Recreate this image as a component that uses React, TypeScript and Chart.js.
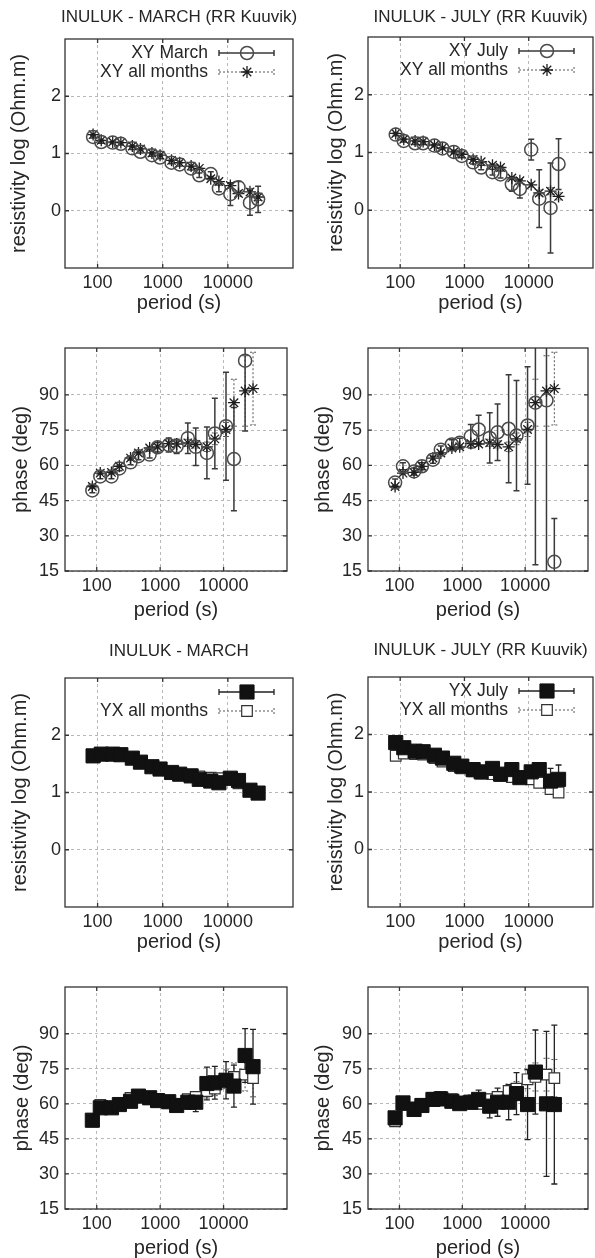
import React, { useEffect, useRef } from "react";
import { Chart, registerables } from "chart.js";

Chart.register(...registerables);

const FONT = "'Liberation Sans', Arial, Helvetica, sans-serif";
const TEXT = "#262626";

// ---------- data ----------
const PERIODS = [85.3, 113.8, 170.7, 227.6, 341.3, 455.1, 682.7, 910.2, 1365.3, 1820.4, 2730.7, 3640.9, 5461.3, 7281.8, 10922.7, 14563.6, 21845.3, 29127.1];
const X_TICKS = [100, 1000, 10000];
const RHO_TICKS = [0, 1, 2];
const PHASE_TICKS = [15, 30, 45, 60, 75, 90];

// XY apparent resistivity (log Ohm.m)
const XY_RHO_MARCH = [1.29, 1.2, 1.19, 1.17, 1.09, 1.03, 0.97, 0.93, 0.84, 0.81, 0.74, 0.62, 0.64, 0.39, 0.29, 0.41, 0.14, 0.2];
const XY_RHO_MARCH_ERR = [0.02, 0.02, 0.02, 0.02, 0.02, 0.02, 0.02, 0.02, 0.02, 0.03, 0.03, 0.04, 0.04, 0.06, 0.2, 0.1, 0.22, 0.23];
const XY_RHO_JULY = [1.31, 1.2, 1.16, 1.16, 1.12, 1.07, 1.01, 0.94, 0.83, 0.74, 0.66, 0.62, 0.45, 0.37, 1.05, 0.2, 0.04, 0.8];
const XY_RHO_JULY_ERR = [0.02, 0.02, 0.02, 0.02, 0.02, 0.02, 0.03, 0.03, 0.03, 0.04, 0.05, 0.06, 0.12, 0.16, 0.18, 0.5, 0.78, 0.44];
const XY_RHO_ALL = [1.33, 1.23, 1.2, 1.19, 1.13, 1.08, 1.01, 0.97, 0.88, 0.84, 0.78, 0.74, 0.56, 0.51, 0.44, 0.3, 0.33, 0.24];
const XY_RHO_ALL_ERR = [0.01, 0.01, 0.01, 0.01, 0.01, 0.01, 0.01, 0.01, 0.01, 0.01, 0.02, 0.02, 0.02, 0.03, 0.04, 0.05, 0.06, 0.06];

// XY phase (deg)
const XY_PHASE_MARCH = [49.3, 55.3, 55.3, 58.7, 61.3, 63.9, 64.6, 67.7, 68.7, 68.1, 71.6, 67.9, 65.3, 73.6, 76.7, 62.7, 104.6, null];
const XY_PHASE_MARCH_ERR = [1, 1, 1, 1, 1, 1.5, 1.5, 2, 3, 3, 6.5, 8, 11, 15, 23, 22, 30, 0];
const XY_PHASE_JULY = [52.7, 59.6, 57.4, 59.6, 62.4, 66.7, 68.9, 69.6, 72.4, 75.3, 71.7, 74.1, 75.6, 72.7, 77.0, 86.7, 87.7, 18.9];
const XY_PHASE_JULY_ERR = [1.5, 1.5, 1.5, 1.5, 1.5, 1.5, 2, 2, 5, 6, 10.7, 12, 23, 23.5, 25, 69, 80, 18.5];
const XY_PHASE_ALL = [51, 56.7, 57, 59.6, 63.1, 65.3, 67.4, 67.9, 69.3, 69.1, 69.6, 68.9, 67.9, 71.3, 75.3, 86.7, 91.7, 92.7];
const XY_PHASE_ALL_ERR = [0.5, 0.5, 0.5, 0.5, 0.5, 0.5, 0.5, 0.8, 1, 1, 1.5, 1.5, 2, 2.5, 3, 10, 15, 15.5];

// YX apparent resistivity (log Ohm.m)
const YX_RHO_MARCH = [1.64, 1.67, 1.67, 1.66, 1.6, 1.53, 1.45, 1.41, 1.35, 1.32, 1.29, 1.23, 1.2, 1.17, 1.25, 1.21, 1.04, 0.99];
const YX_RHO_MARCH_ERR = [0.02, 0.02, 0.02, 0.02, 0.02, 0.02, 0.02, 0.02, 0.02, 0.02, 0.02, 0.02, 0.03, 0.03, 0.03, 0.03, 0.04, 0.06];
const YX_RHO_JULY = [1.86, 1.77, 1.71, 1.7, 1.64, 1.59, 1.5, 1.45, 1.39, 1.35, 1.41, 1.31, 1.39, 1.25, 1.35, 1.39, 1.19, 1.22];
const YX_RHO_JULY_ERR = [0.02, 0.02, 0.02, 0.02, 0.02, 0.02, 0.02, 0.02, 0.02, 0.02, 0.03, 0.03, 0.04, 0.04, 0.07, 0.1, 0.22, 0.25];
const YX_RHO_ALL = [1.63, 1.67, 1.66, 1.65, 1.59, 1.53, 1.45, 1.41, 1.36, 1.32, 1.31, 1.28, 1.26, 1.25, 1.22, 1.16, 1.05, 0.99];
const YX_RHO_ALL_ERR = [0.01, 0.01, 0.01, 0.01, 0.01, 0.01, 0.01, 0.01, 0.01, 0.01, 0.02, 0.02, 0.02, 0.02, 0.03, 0.04, 0.05, 0.05];

// YX phase (deg)
const YX_PHASE_MARCH = [53, 58.3, 58.3, 59.7, 61.1, 63.3, 62.6, 61.4, 60.9, 59.3, 60.7, 60.7, 68.7, 69.0, 70.1, 67.6, 80.7, 75.9];
const YX_PHASE_MARCH_ERR = [1, 1, 1, 1, 1, 1, 1, 1, 1.5, 2, 3, 4, 7, 7, 8, 9, 11.5, 16];
const YX_PHASE_JULY = [54, 60.4, 57.6, 59.3, 61.9, 62.1, 61.1, 60.1, 60.7, 61.9, 59.0, 60.7, 60.7, 64.4, 59.7, 73.6, 60.0, 59.7];
const YX_PHASE_JULY_ERR = [1, 1, 1, 1, 1, 1, 1, 1, 3, 4, 5, 6, 7.5, 9, 15, 18, 31, 34];
const YX_PHASE_ALL = [52.5, 59.5, 58.5, 60, 62.5, 63, 62, 61, 60.5, 60, 62, 63, 65.5, 66.5, 70.5, 71.5, 72.5, 71];
const YX_PHASE_ALL_ERR = [0.5, 0.5, 0.5, 0.5, 0.5, 0.5, 0.5, 0.5, 1, 1, 1.5, 2, 3, 3, 4, 6, 7, 8];

// ---------- styles ----------
type Kind = "circle" | "star" | "filled" | "open";
const STYLE: Record<Kind, any> = {
  circle: { pointStyle: "circle", pointRadius: 6.5, pointBorderColor: "#4a4a4a", pointBackgroundColor: "rgba(0,0,0,0)", pointBorderWidth: 1.5, errColor: "#3a3a3a", errWidth: 1.5, errDash: [] },
  star: { pointStyle: "star", pointRadius: 6, pointBorderColor: "#1e1e1e", pointBackgroundColor: "rgba(0,0,0,0)", pointBorderWidth: 1.3, errColor: "#555", errWidth: 1, errDash: [2, 2] },
  filled: { pointStyle: "rect", pointRadius: 10, pointBorderColor: "#111", pointBackgroundColor: "#111", pointBorderWidth: 1, errColor: "#222", errWidth: 1.3, errDash: [] },
  open: { pointStyle: "rect", pointRadius: 7.5, pointBorderColor: "#333", pointBackgroundColor: "#fff", pointBorderWidth: 1.2, errColor: "#555", errWidth: 1, errDash: [2, 2] },
};

function drawMarker(ctx: CanvasRenderingContext2D, kind: Kind, x: number, y: number) {
  const s = STYLE[kind];
  ctx.save();
  ctx.setLineDash([]);
  ctx.strokeStyle = s.pointBorderColor;
  ctx.fillStyle = s.pointBackgroundColor;
  ctx.lineWidth = s.pointBorderWidth;
  ctx.beginPath();
  if (kind === "circle") {
    ctx.arc(x, y, s.pointRadius, 0, Math.PI * 2);
    ctx.stroke();
  } else if (kind === "star") {
    const r = s.pointRadius;
    const d = r * Math.SQRT1_2;
    ctx.moveTo(x - r, y); ctx.lineTo(x + r, y);
    ctx.moveTo(x, y - r); ctx.lineTo(x, y + r);
    ctx.moveTo(x - d, y - d); ctx.lineTo(x + d, y + d);
    ctx.moveTo(x - d, y + d); ctx.lineTo(x + d, y - d);
    ctx.stroke();
  } else {
    const h = s.pointRadius * Math.SQRT1_2;
    ctx.rect(x - h, y - h, 2 * h, 2 * h);
    ctx.fill();
    ctx.stroke();
  }
  ctx.restore();
}

// ---------- plugins ----------
const boxPlugin = {
  id: "gnuBox",
  beforeDatasetsDraw(chart: any) {
    const { ctx, chartArea: a, scales } = chart;
    ctx.save();
    ctx.strokeStyle = "#333";
    ctx.lineWidth = 1.3;
    ctx.setLineDash([]);
    ctx.strokeRect(a.left, a.top, a.right - a.left, a.bottom - a.top);
    ctx.beginPath();
    const tl = 4;
    scales.x.ticks.forEach((t: any) => {
      const px = scales.x.getPixelForValue(t.value);
      ctx.moveTo(px, a.bottom); ctx.lineTo(px, a.bottom - tl);
      ctx.moveTo(px, a.top); ctx.lineTo(px, a.top + tl);
    });
    scales.y.ticks.forEach((t: any) => {
      const py = scales.y.getPixelForValue(t.value);
      ctx.moveTo(a.left, py); ctx.lineTo(a.left + tl, py);
      ctx.moveTo(a.right, py); ctx.lineTo(a.right - tl, py);
    });
    ctx.stroke();
    ctx.restore();
  },
};

const errorBarPlugin = {
  id: "errorBars",
  beforeDatasetsDraw(chart: any) {
    const { ctx, chartArea: a, scales } = chart;
    const xs = scales.x, ys = scales.y;
    ctx.save();
    ctx.beginPath();
    ctx.rect(a.left, a.top, a.right - a.left, a.bottom - a.top);
    ctx.clip();
    const dss = chart.data.datasets.slice().reverse();
    dss.forEach((ds: any) => {
      const errs = ds.errs;
      if (!errs) return;
      ctx.strokeStyle = ds.errColor;
      ctx.lineWidth = ds.errWidth;
      ctx.setLineDash(ds.errDash || []);
      ds.data.forEach((pt: any, i: number) => {
        if (pt.y == null || !errs[i]) return;
        const px = xs.getPixelForValue(pt.x);
        const y1 = ys.getPixelForValue(pt.y + errs[i]);
        const y2 = ys.getPixelForValue(pt.y - errs[i]);
        ctx.beginPath();
        ctx.moveTo(px, y1); ctx.lineTo(px, y2);
        ctx.moveTo(px - 3, y1); ctx.lineTo(px + 3, y1);
        ctx.moveTo(px - 3, y2); ctx.lineTo(px + 3, y2);
        ctx.stroke();
      });
    });
    ctx.restore();
  },
};

const inlineLegendPlugin = {
  id: "inlineLegend",
  afterDatasetsDraw(chart: any, _args: any, opts: any) {
    if (!opts || !opts.items) return;
    const { ctx, chartArea: a } = chart;
    ctx.save();
    ctx.font = `17.5px ${FONT}`;
    ctx.fillStyle = TEXT;
    ctx.textAlign = "right";
    ctx.textBaseline = "middle";
    opts.items.forEach((it: any, i: number) => {
      const y = a.top + 14 + i * 19;
      if (it.text) ctx.fillText(it.text, a.right - 85, y);
      const x0 = a.right - 74, x1 = a.right - 19, xm = a.right - 46;
      const s = STYLE[it.kind as Kind];
      ctx.save();
      ctx.strokeStyle = s.errColor;
      ctx.lineWidth = s.errWidth;
      ctx.setLineDash(s.errDash);
      ctx.beginPath();
      ctx.moveTo(x0, y); ctx.lineTo(x1, y);
      ctx.moveTo(x0, y - 3); ctx.lineTo(x0, y + 3);
      ctx.moveTo(x1, y - 3); ctx.lineTo(x1, y + 3);
      ctx.stroke();
      ctx.restore();
      drawMarker(ctx, it.kind, xm, y);
    });
    ctx.restore();
  },
};

// panel title drawn as canvas text centred over the plot box
const panelTitlePlugin = {
  id: "panelTitle",
  afterDraw(chart: any, _args: any, opts: any) {
    if (!opts || !opts.text) return;
    const { ctx, chartArea: a } = chart;
    ctx.save();
    ctx.font = `17px ${FONT}`;
    ctx.fillStyle = TEXT;
    ctx.textAlign = "center";
    ctx.textBaseline = "middle";
    ctx.fillText(opts.text, (a.left + a.right) / 2, opts.y);
    ctx.restore();
  },
};

// ---------- panels ----------
type Series = { kind: Kind; values: (number | null)[]; errs: number[] };
type PanelDef = {
  cx: number; cy: number; w: number; h: number;
  boxL: number; boxR: number; boxT: number; boxB: number;
  title?: string; titleY?: number;
  yTitle: string; yTitleX: number; xTitleY: number;
  yMin: number; yMax: number; yTicks: number[]; yTickPad: number;
  series: Series[];
  legend?: { text: string; kind: Kind }[];
};

const RHO_LABEL = "resistivity log (Ohm.m)";
const PHASE_LABEL = "phase (deg)";

const PANELS: PanelDef[] = [
  {
    cx: 0, cy: 0, w: 297, h: 318, boxL: 65, boxR: 293, boxT: 39, boxB: 268,
    title: "INULUK - MARCH (RR Kuuvik)", titleY: 17,
    yTitle: RHO_LABEL, yTitleX: 19, xTitleY: 303,
    yMin: -1, yMax: 3, yTicks: RHO_TICKS, yTickPad: 4,
    series: [
      { kind: "circle", values: XY_RHO_MARCH, errs: XY_RHO_MARCH_ERR },
      { kind: "star", values: XY_RHO_ALL, errs: XY_RHO_ALL_ERR },
    ],
    legend: [{ text: "XY March", kind: "circle" }, { text: "XY all months", kind: "star" }],
  },
  {
    cx: 297, cy: 0, w: 298, h: 318, boxL: 368, boxR: 593, boxT: 37, boxB: 268,
    title: "INULUK - JULY (RR Kuuvik)", titleY: 17,
    yTitle: RHO_LABEL, yTitleX: 336, xTitleY: 303,
    yMin: -1, yMax: 3, yTicks: RHO_TICKS, yTickPad: 4,
    series: [
      { kind: "circle", values: XY_RHO_JULY, errs: XY_RHO_JULY_ERR },
      { kind: "star", values: XY_RHO_ALL, errs: XY_RHO_ALL_ERR },
    ],
    legend: [{ text: "XY July", kind: "circle" }, { text: "XY all months", kind: "star" }],
  },
  {
    cx: 0, cy: 318, w: 297, h: 314, boxL: 65, boxR: 287, boxT: 348, boxB: 571,
    yTitle: PHASE_LABEL, yTitleX: 21, xTitleY: 610,
    yMin: 15, yMax: 110, yTicks: PHASE_TICKS, yTickPad: 6,
    series: [
      { kind: "circle", values: XY_PHASE_MARCH, errs: XY_PHASE_MARCH_ERR },
      { kind: "star", values: XY_PHASE_ALL, errs: XY_PHASE_ALL_ERR },
    ],
  },
  {
    cx: 297, cy: 318, w: 298, h: 314, boxL: 368, boxR: 588, boxT: 348, boxB: 571,
    yTitle: PHASE_LABEL, yTitleX: 323, xTitleY: 610,
    yMin: 15, yMax: 110, yTicks: PHASE_TICKS, yTickPad: 6,
    series: [
      { kind: "circle", values: XY_PHASE_JULY, errs: XY_PHASE_JULY_ERR },
      { kind: "star", values: XY_PHASE_ALL, errs: XY_PHASE_ALL_ERR },
    ],
  },
  {
    cx: 0, cy: 632, w: 297, h: 323, boxL: 65, boxR: 293, boxT: 678, boxB: 907,
    title: "INULUK - MARCH", titleY: 651,
    yTitle: RHO_LABEL, yTitleX: 20, xTitleY: 942,
    yMin: -1, yMax: 3, yTicks: RHO_TICKS, yTickPad: 4,
    series: [
      { kind: "filled", values: YX_RHO_MARCH, errs: YX_RHO_MARCH_ERR },
      { kind: "open", values: YX_RHO_ALL, errs: YX_RHO_ALL_ERR },
    ],
    legend: [{ text: "", kind: "filled" }, { text: "YX all months", kind: "open" }],
  },
  {
    cx: 297, cy: 632, w: 298, h: 323, boxL: 368, boxR: 593, boxT: 677, boxB: 907,
    title: "INULUK - JULY (RR Kuuvik)", titleY: 650,
    yTitle: RHO_LABEL, yTitleX: 336, xTitleY: 942,
    yMin: -1, yMax: 3, yTicks: RHO_TICKS, yTickPad: 4,
    series: [
      { kind: "filled", values: YX_RHO_JULY, errs: YX_RHO_JULY_ERR },
      { kind: "open", values: YX_RHO_ALL, errs: YX_RHO_ALL_ERR },
    ],
    legend: [{ text: "YX July", kind: "filled" }, { text: "YX all months", kind: "open" }],
  },
  {
    cx: 0, cy: 955, w: 297, h: 303, boxL: 65, boxR: 287, boxT: 987, boxB: 1209,
    yTitle: PHASE_LABEL, yTitleX: 22, xTitleY: 1248,
    yMin: 15, yMax: 110, yTicks: PHASE_TICKS, yTickPad: 6,
    series: [
      { kind: "filled", values: YX_PHASE_MARCH, errs: YX_PHASE_MARCH_ERR },
      { kind: "open", values: YX_PHASE_ALL, errs: YX_PHASE_ALL_ERR },
    ],
  },
  {
    cx: 297, cy: 955, w: 298, h: 303, boxL: 368, boxR: 588, boxT: 987, boxB: 1209,
    yTitle: PHASE_LABEL, yTitleX: 323, xTitleY: 1248,
    yMin: 15, yMax: 110, yTicks: PHASE_TICKS, yTickPad: 6,
    series: [
      { kind: "filled", values: YX_PHASE_JULY, errs: YX_PHASE_JULY_ERR },
      { kind: "open", values: YX_PHASE_ALL, errs: YX_PHASE_ALL_ERR },
    ],
  },
];

function buildConfig(p: PanelDef): any {
  const boxL = p.boxL - p.cx, boxR = p.boxR - p.cx, boxT = p.boxT - p.cy, boxB = p.boxB - p.cy;
  const axisLH = 20 * 1.2;
  const tickLH = 18 * 1.2;
  const yTitleCenter = p.yTitleX - p.cx;
  const xTitleCenter = p.xTitleY - p.cy;
  const gridColor = "#b8b8b8";

  const datasets = p.series.map((s) => {
    const st = STYLE[s.kind];
    return {
      data: PERIODS.map((x, i) => ({ x, y: s.values[i] })),
      showLine: false,
      pointStyle: st.pointStyle,
      pointRadius: st.pointRadius,
      pointBorderColor: st.pointBorderColor,
      pointBackgroundColor: st.pointBackgroundColor,
      pointBorderWidth: st.pointBorderWidth,
      errs: s.errs,
      errColor: st.errColor,
      errWidth: st.errWidth,
      errDash: st.errDash,
    };
  });

  return {
    type: "scatter",
    data: { datasets },
    plugins: [boxPlugin, errorBarPlugin, inlineLegendPlugin, panelTitlePlugin],
    options: {
      animation: false,
      responsive: false,
      devicePixelRatio: 1,
      events: [],
      layout: { autoPadding: false, padding: { left: 0, right: p.w - boxR, top: boxT, bottom: 0 } },
      plugins: {
        legend: { display: false },
        tooltip: { enabled: false },
        title: { display: false },
        panelTitle: p.title ? { text: p.title, y: (p.titleY ?? 0) - p.cy } : {},
        inlineLegend: p.legend ? { items: p.legend } : {},
      },
      scales: {
        x: {
          type: "logarithmic",
          position: "bottom",
          min: 31.6,
          max: 100000,
          afterBuildTicks: (s: any) => {
            s.ticks = X_TICKS.map((v) => ({ value: v }));
          },
          afterFit: (s: any) => {
            s.height = p.h - boxB;
          },
          ticks: {
            autoSkip: false,
            maxRotation: 0,
            minRotation: 0,
            padding: 15.5 - tickLH / 2,
            color: TEXT,
            font: { family: FONT, size: 18, lineHeight: 1.2 },
            callback: (v: any) => String(v),
          },
          grid: { color: gridColor, lineWidth: 1, drawTicks: false },
          border: { display: false, dash: [3, 3] },
          title: {
            display: true,
            text: "period (s)",
            color: TEXT,
            font: { family: FONT, size: 20, lineHeight: 1.2 },
            padding: { top: 0, bottom: p.h - xTitleCenter - axisLH / 2 },
          },
        },
        y: {
          type: "linear",
          position: "left",
          min: p.yMin,
          max: p.yMax,
          afterBuildTicks: (s: any) => {
            s.ticks = p.yTicks.map((v) => ({ value: v }));
          },
          afterFit: (s: any) => {
            s.width = boxL;
          },
          ticks: {
            padding: p.yTickPad,
            color: TEXT,
            font: { family: FONT, size: 18, lineHeight: 1.2 },
            callback: (v: any) => String(v),
          },
          grid: { color: gridColor, lineWidth: 1, drawTicks: false },
          border: { display: false, dash: [3, 3] },
          title: {
            display: true,
            text: p.yTitle,
            color: TEXT,
            font: { family: FONT, size: 20, lineHeight: 1.2 },
            padding: { top: yTitleCenter - axisLH / 2, bottom: 0 },
          },
        },
      },
    },
  };
}

function Panel({ def }: { def: PanelDef }) {
  const ref = useRef<HTMLCanvasElement | null>(null);
  useEffect(() => {
    if (!ref.current) return;
    const chart = new Chart(ref.current, buildConfig(def));
    return () => chart.destroy();
  }, [def]);
  return (
    <canvas
      ref={ref}
      width={def.w}
      height={def.h}
      style={{ position: "absolute", left: def.cx, top: def.cy, width: def.w, height: def.h }}
    />
  );
}

export default function App() {
  return (
    <div style={{ position: "absolute", left: 0, top: 0, width: 595, height: 1258, background: "#fff", overflow: "hidden" }}>
      {PANELS.map((p, i) => (
        <Panel key={i} def={p} />
      ))}
    </div>
  );
}
